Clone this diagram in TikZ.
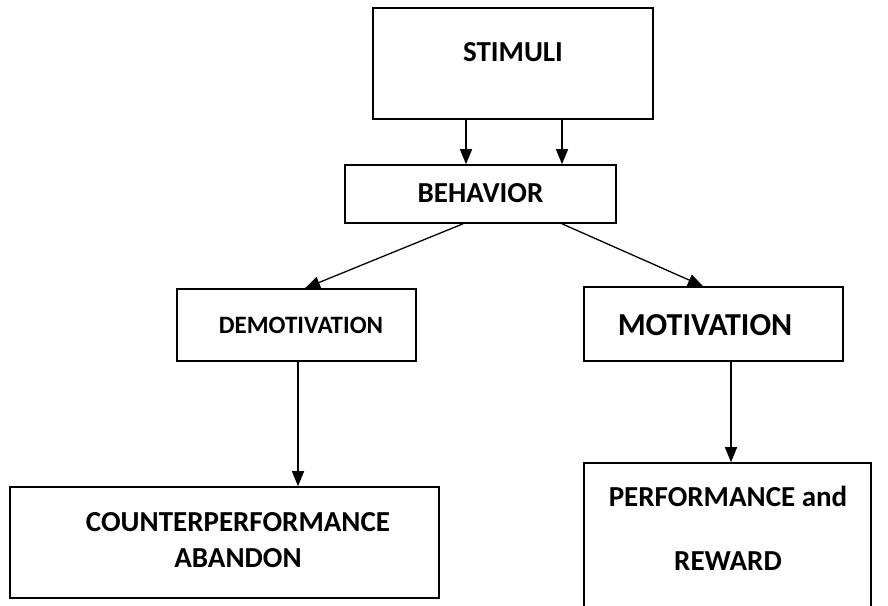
\documentclass[tikz,border=0pt]{standalone}
\usepackage{fontspec}
\setmainfont{Carlito}
\usetikzlibrary{arrows.meta, positioning, calc}

\tikzset{
  box/.style={draw, line width=1.6pt, inner sep=0pt},
  lbl/.style={font=\fontsize{29}{34}\selectfont\bfseries, align=center, inner sep=0pt},
  arr/.style={line width=1.3pt, -{Triangle[length=15pt, width=12pt]}}
}

\begin{document}
\begin{tikzpicture}[x=1pt, y=-1pt]
  \useasboundingbox (0,0) rectangle (888,605);
  \clip (0,0) rectangle (888,605);

  % Stimuli
  \node[box, minimum width=280pt, minimum height=111pt] (stim) at (513,63.5) {};
  \node[lbl] (stimtxt) at (513,52) {STIMULI};

  % Behavior
  \node[box, minimum width=271pt, minimum height=58pt] (beh) at (480.5,194) {};
  \node[lbl] (behtxt) at (480.5,193) {BEHAVIOR};

  % Demotivation / Motivation
  \node[box, minimum width=239pt, minimum height=72pt] (demo) at (296.5,325) {};
  \node[lbl, font=\fontsize{25}{29}\selectfont\bfseries] (demotxt) at (301,325) {DEMOTIVATION};
  \node[box, minimum width=259pt, minimum height=74pt] (mot) at (713.5,324) {};
  \node[lbl, font=\fontsize{32}{36}\selectfont\bfseries] (mottxt) at (705,325) {MOTIVATION};

  % Results
  \node[box, minimum width=429pt, minimum height=111pt] (coun) at (224.5,542.5) {};
  \node[lbl] (countxt1) at (238,522) {COUNTERPERFORMANCE};
  \node[lbl] (countxt2) at (238,558) {ABANDON};
  \node[box, minimum width=287pt, minimum height=170pt] (perf) at (727.5,548) {};
  \node[lbl] (perftxt1) at (728,496) {PERFORMANCE and};
  \node[lbl] (perftxt2) at (728,561) {REWARD};

  % Arrows
  \draw[arr] ([xshift=-47pt]stim.south) -- ([xshift=-47pt]stim.south |- beh.north);
  \draw[arr] ([xshift=49pt]stim.south) -- ([xshift=49pt]stim.south |- beh.north);
  \draw[arr] ([xshift=-17.5pt]beh.south) -- ([xshift=8.5pt]demo.north);
  \draw[arr] ([xshift=81.5pt]beh.south) -- ([xshift=-10.5pt]mot.north);
  \draw[arr] ([xshift=1.5pt]demo.south) -- ([xshift=1.5pt]demo.south |- coun.north);
  \draw[arr] ([xshift=17.5pt]mot.south) -- ([xshift=17.5pt]mot.south |- perf.north);
\end{tikzpicture}
\end{document}
